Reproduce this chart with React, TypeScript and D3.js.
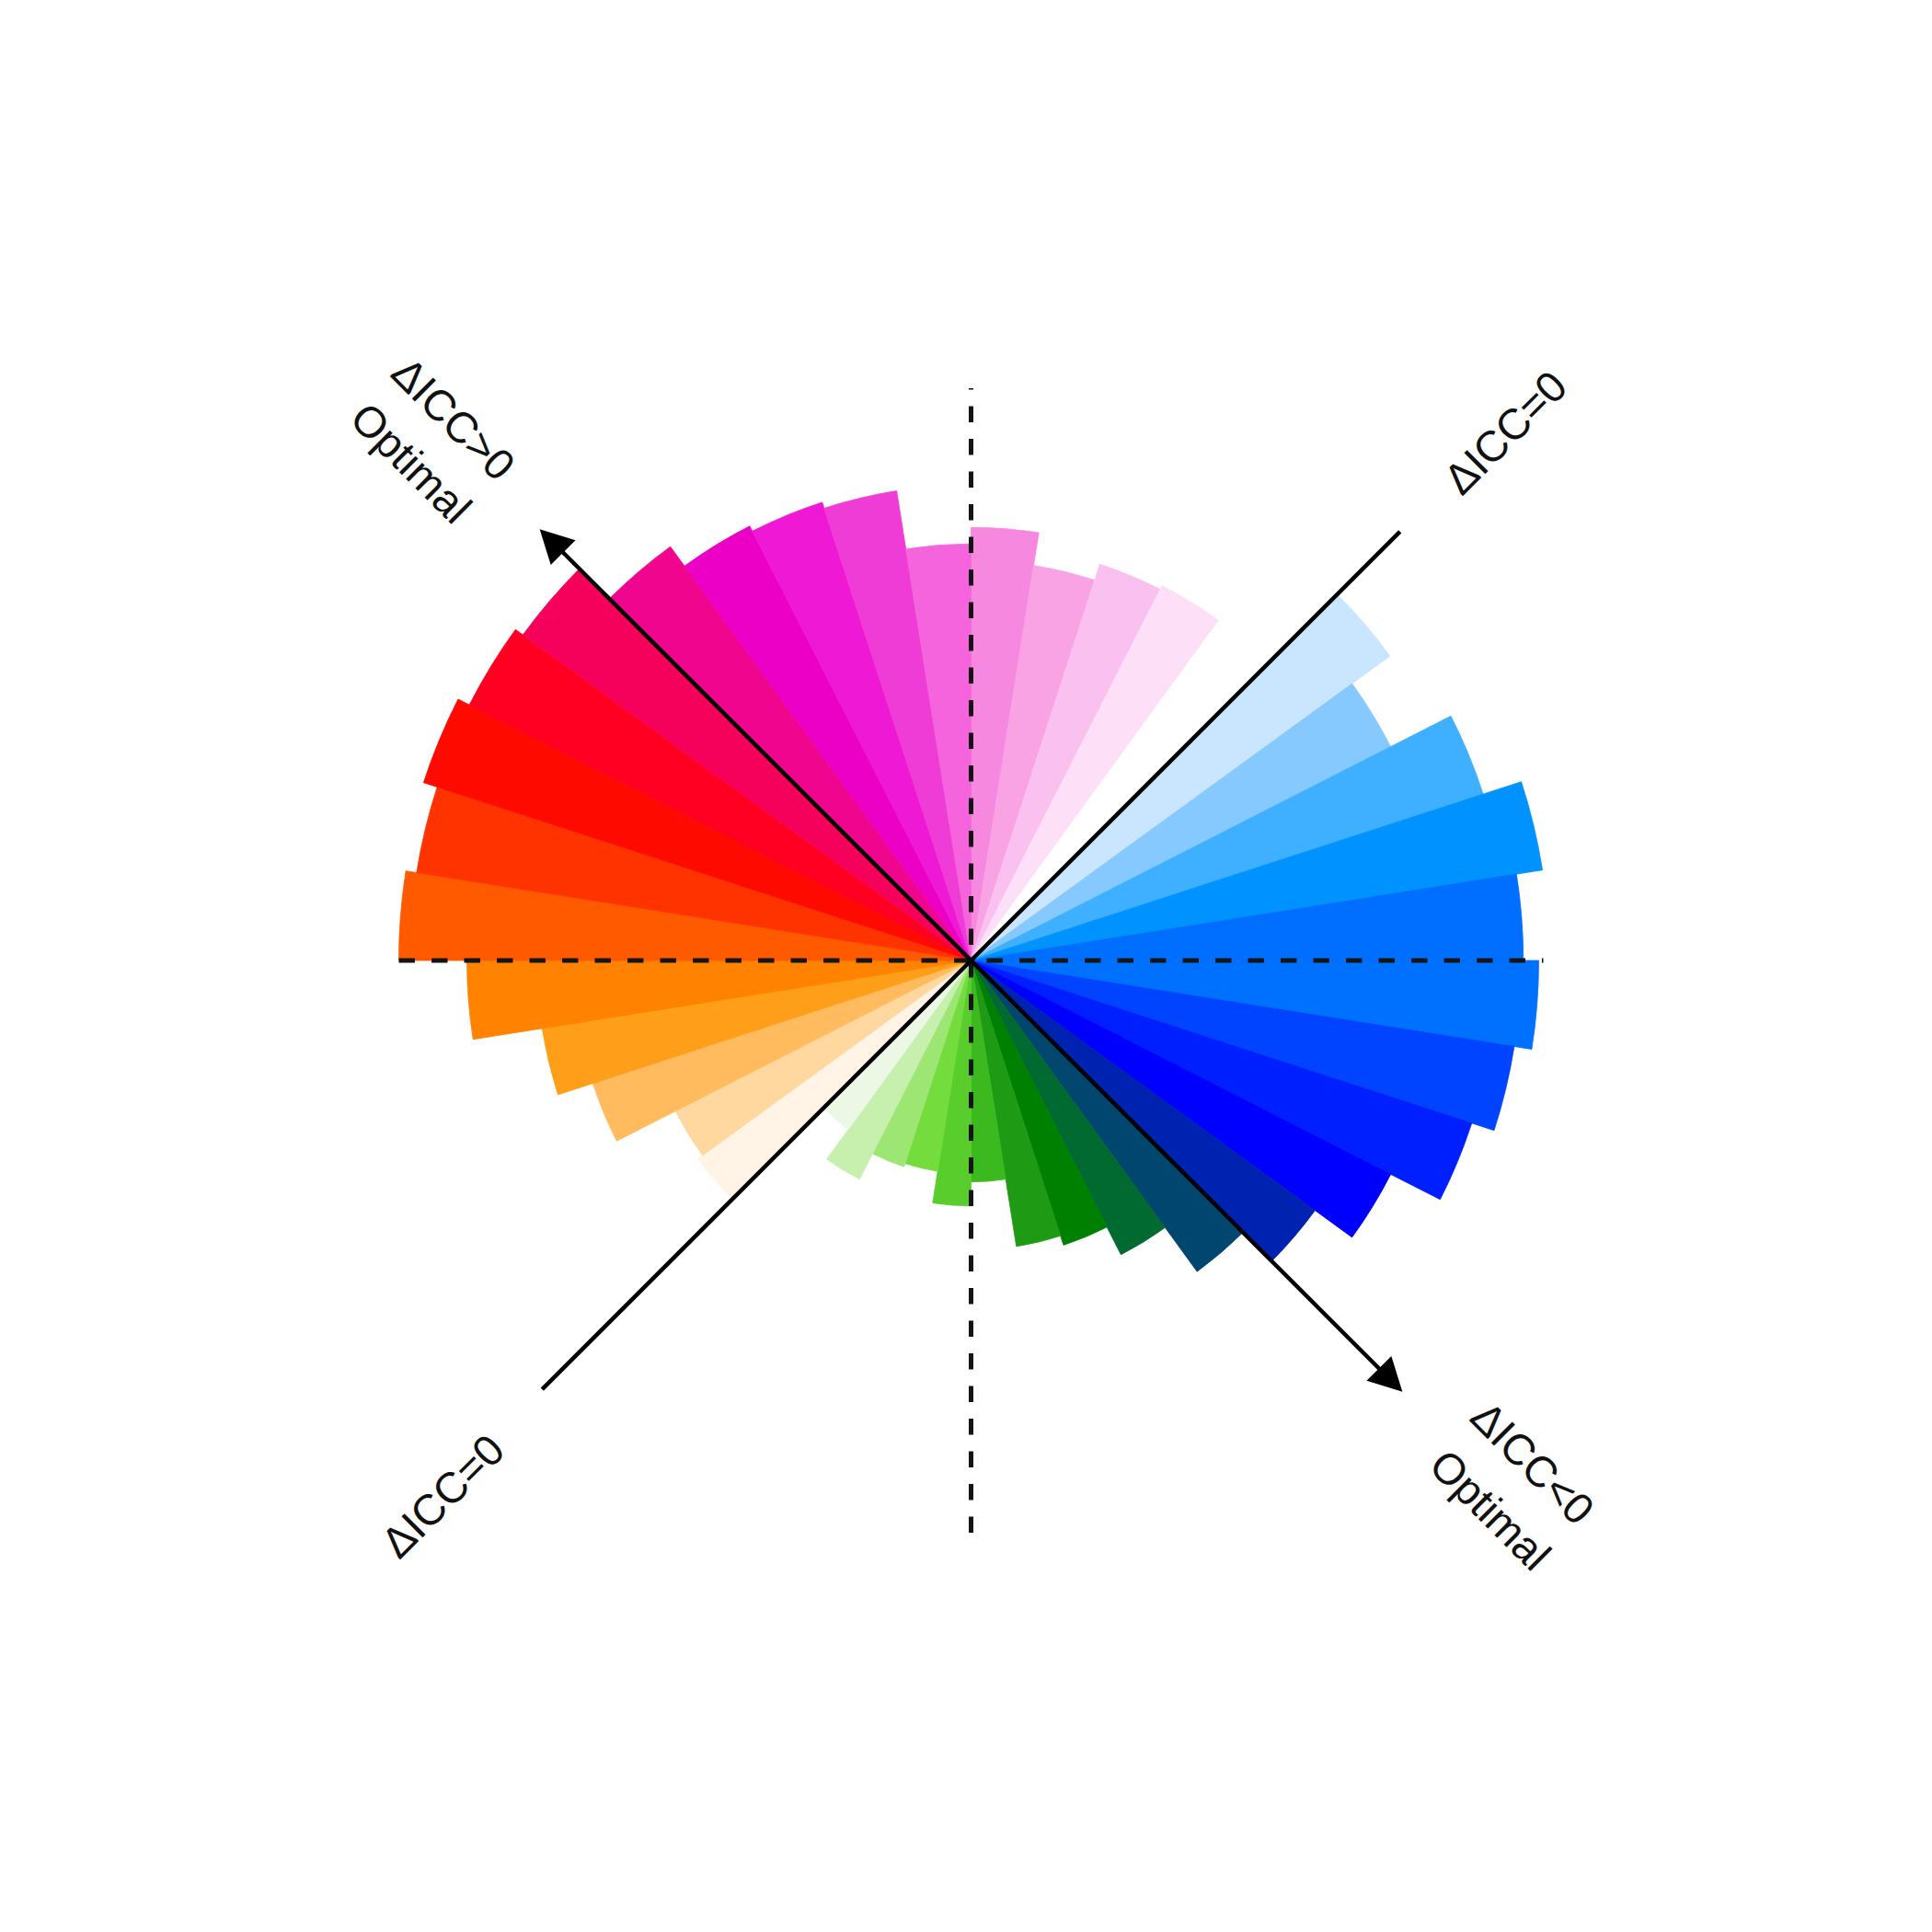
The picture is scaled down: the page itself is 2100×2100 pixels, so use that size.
import * as d3 from "d3";

// one 9° sector per entry, clockwise from north
const sectorValues = [
  0.757, 0.699, 0.728, 0.735, 0, 0.905, 0.823, 0.941, 1.011, 0.965,
  0.992, 0.961, 0.92, 0.823, 0.743, 0.672, 0.577, 0.523, 0.506, 0.387,
  0.429, 0.373, 0.379, 0.429, 0.365, 0.59, 0.58, 0.695, 0.759, 0.881,
  1.0, 0.981, 1.006, 0.984, 0.968, 0.894, 0.852, 0.842, 0.831, 0.728,
];

const sectorColors = [
  "#f788e0", "#f9a3e5", "#fac0ef", "#fddff7", "#ffffff", "#c9e6fe", "#86c9fe", "#3fb0ff", "#0093ff", "#006fff",
  "#0070ff", "#0044ff", "#001fff", "#0000ff", "#0022b0", "#00466e", "#006a30", "#008000", "#1f9a14", "#3cb91e",
  "#58cd2c", "#74dc3c", "#9ee673", "#c7f0ae", "#ecf8e5", "#fff4e6", "#ffd8a0", "#ffbb5d", "#ff9e18", "#ff8200",
  "#ff5a00", "#ff3300", "#ff0a00", "#ff0022", "#f5005a", "#f0058e", "#ec00c5", "#ee18d5", "#f03cd6", "#f564dc",
];

// labels on the diagonals
const upperLeftLines = ["ΔICC>0", "Optimal"];
const lowerRightLines = ["ΔICC<0", "Optimal"];
const zeroLabel = "ΔICC=0";

const W = 2100;
const H = 2100;
const cx = 1055.5;
const cy = 1044;
const binDeg = 360 / sectorValues.length;
const rad = Math.PI / 180;

const rScale = d3.scaleLinear().domain([0, 1]).range([0, 622]);

const arc = d3.arc<number>()
  .innerRadius(0)
  .outerRadius((d) => rScale(d));

// polar -> xy, angle in degrees clockwise from north
function pt(angle: number, r: number): [number, number] {
  return [cx + r * Math.sin(angle * rad), cy - r * Math.cos(angle * rad)];
}

function Arrow({ angle }: { angle: number }) {
  const tipR = rScale(1.066);
  const headLen = 36;
  const halfW = 19;
  const [tx, ty] = pt(angle, tipR);
  const [bx, by] = pt(angle, tipR - headLen);
  const px = Math.cos(angle * rad) * halfW;
  const py = Math.sin(angle * rad) * halfW;
  const [lx, ly] = pt(angle, tipR - headLen + 4);
  return (
    <g>
      <line x1={cx} y1={cy} x2={lx} y2={ly} stroke="#000" strokeWidth={4.5} />
      <path
        d={`M${tx},${ty}L${bx + px},${by + py}L${bx - px},${by - py}Z`}
        fill="#000"
      />
    </g>
  );
}

const font = {
  fontFamily: "'Liberation Sans', Arial, Helvetica, sans-serif",
  fontSize: 47,
  fill: "#111",
};

export default function App() {
  const diagR = rScale(1.06);
  const [ne1x, ne1y] = pt(45, diagR);
  const [sw1x, sw1y] = pt(225, diagR);

  return (
    <svg
      width={W}
      height={H}
      style={{ position: "absolute", left: 0, top: 0, background: "#fff" }}
    >
      <g transform={`translate(${cx},${cy})`}>
        {sectorValues.map((v, i) => {
          const d = arc.startAngle(i * binDeg * rad).endAngle((i + 1) * binDeg * rad)(v);
          return (
            <path
              key={i}
              d={d || ""}
              fill={sectorColors[i]}
              stroke={sectorColors[i]}
              strokeWidth={0.8}
            />
          );
        })}
      </g>

      {/* dashed axes */}
      <line
        x1={cx - rScale(1)} y1={cy} x2={cx + rScale(1)} y2={cy}
        stroke="#141414" strokeWidth={5} strokeDasharray="17.5 18"
      />
      <line
        x1={cx} y1={cy + rScale(1)} x2={cx} y2={cy - rScale(1)}
        stroke="#141414" strokeWidth={5} strokeDasharray="17.5 18"
      />

      {/* ΔICC=0 diagonal */}
      <line x1={cx} y1={cy} x2={ne1x} y2={ne1y} stroke="#000" strokeWidth={4.5} />
      <line x1={cx} y1={cy} x2={sw1x} y2={sw1y} stroke="#000" strokeWidth={4.5} />

      <Arrow angle={315} />
      <Arrow angle={135} />

      {/* labels */}
      <g style={font} textAnchor="middle">
        <text x={493} y={455} transform="rotate(45 493 455)" dominantBaseline="central">
          {upperLeftLines[0]}
        </text>
        <text x={447} y={503} transform="rotate(45 447 503)" dominantBaseline="central">
          {upperLeftLines[1]}
        </text>
        <text x={1666} y={1590} transform="rotate(45 1666 1590)" dominantBaseline="central">
          {lowerRightLines[0]}
        </text>
        <text x={1620} y={1641} transform="rotate(45 1620 1641)" dominantBaseline="central">
          {lowerRightLines[1]}
        </text>
        <text x={1636} y={470} transform="rotate(-45 1636 470)" dominantBaseline="central">
          {zeroLabel}
        </text>
        <text x={481} y={1626} transform="rotate(-45 481 1626)" dominantBaseline="central">
          {zeroLabel}
        </text>
      </g>
    </svg>
  );
}
